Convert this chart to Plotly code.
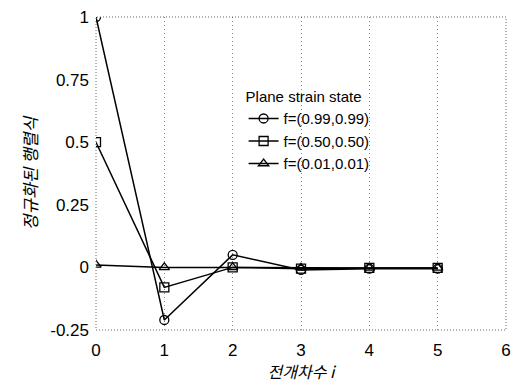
import plotly.graph_objects as go

x_vals = [0, 1, 2, 3, 4, 5]
f099 = [1.0, -0.21, 0.05, -0.01, -0.005, -0.005]
f050 = [0.5, -0.08, 0.0, -0.005, -0.002, -0.002]
f001 = [0.01, 0.0, 0.0, -0.002, -0.002, -0.002]
names = ["f=(0.99,0.99)", "f=(0.50,0.50)", "f=(0.01,0.01)"]
symbols = ["circle-open", "square-open", "triangle-up-open"]
y_ticks = [-0.25, 0, 0.25, 0.5, 0.75, 1]
y_tick_text = ["-0.25", "0", "0.25", "0.5", "0.75", "1"]
x_ticks = [0, 1, 2, 3, 4, 5, 6]

fig = go.Figure()
for ys, nm, sym in zip([f099, f050, f001], names, symbols):
    fig.add_trace(go.Scatter(
        x=x_vals, y=ys, name=nm, mode="lines+markers",
        line=dict(color="black", width=1.5),
        marker=dict(symbol=sym, size=9, color="black", line=dict(width=1.3, color="black")),
    ))

fig.update_layout(
    width=516, height=383,
    margin=dict(l=96, r=5, t=17, b=53),
    paper_bgcolor="white", plot_bgcolor="white",
    font=dict(family="Liberation Sans, Arial", size=17, color="black"),
    showlegend=True,
    legend=dict(
        x=0.36, y=0.79, xanchor="left", yanchor="top",
        bgcolor="rgba(0,0,0,0)",
        title=dict(text="Plane strain state", font=dict(size=15)),
        font=dict(size=15), tracegroupgap=0, itemwidth=30,
    ),
    xaxis=dict(
        range=[0, 6], tickvals=x_ticks, showgrid=True,
        gridcolor="#888", griddash="1px,3px", gridwidth=1,
        zeroline=False, showline=False, ticks="", ticklabelstandoff=8,
        title=dict(text="<i>전개차수 i</i>", font=dict(family="Noto Sans CJK KR", size=16), standoff=4),
    ),
    yaxis=dict(
        range=[-0.25, 1], tickvals=y_ticks, ticktext=y_tick_text, showgrid=False,
        zeroline=False, showline=False, ticks="", ticklabelstandoff=6,
        title=dict(text="<i>정규화된 행렬식</i>", font=dict(family="Noto Sans CJK KR", size=17), standoff=8),
    ),
    shapes=[dict(type="rect", xref="paper", yref="paper", x0=0, x1=1, y0=0, y1=1,
                 line=dict(color="#666", width=1, dash="1px,2px"))],
)

fig.write_html("out.html")
